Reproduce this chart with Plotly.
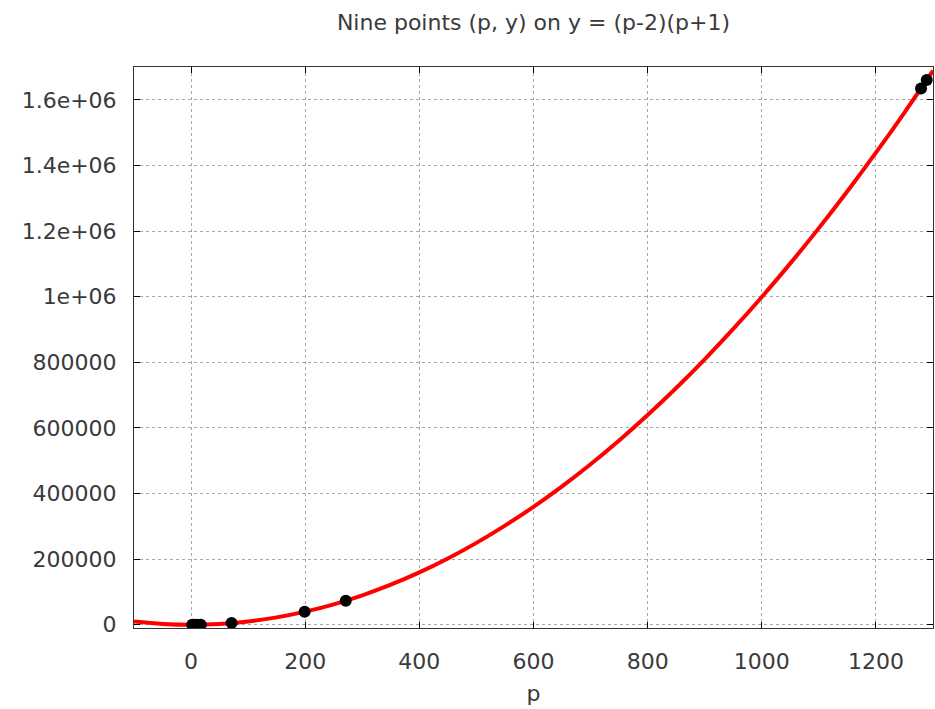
import plotly.graph_objects as go

# curve samples (p, y) read along y=(p-2)(p+1)
curve_p = [-100, -50, 0, 50, 100, 150, 200, 250, 300, 350, 400, 450, 500, 550, 600,
           650, 700, 750, 800, 850, 900, 950, 1000, 1050, 1100, 1150, 1200, 1250, 1300]
curve_y = [10098, 2548, -2, 2448, 9898, 22348, 39798, 62248, 89698, 122148, 159598,
           202048, 249498, 301948, 359398, 421848, 489298, 561748, 639198, 721648,
           809098, 901548, 998998, 1101448, 1208898, 1321348, 1438798, 1561248, 1688698]

# nine points
pts_p = [2, 5, 11, 17, 71, 199, 271, 1279, 1289]
pts_y = [0, 18, 108, 270, 4968, 39400, 73168, 1634560, 1660230]

x_ticks = [0, 200, 400, 600, 800, 1000, 1200]
y_ticks = [0, 200000, 400000, 600000, 800000, 1000000, 1200000, 1400000, 1600000]
y_tick_labels = ["0", "200000", "400000", "600000", "800000", "1e+06", "1.2e+06", "1.4e+06", "1.6e+06"]

font = "DejaVu Sans"
txt = "#3a3a3a"

fig = go.Figure()
fig.add_trace(go.Scatter(x=curve_p, y=curve_y, mode="lines", line=dict(color="#ff0000", width=4, shape="spline"),
                         showlegend=False, hoverinfo="skip", cliponaxis=True))
fig.add_trace(go.Scatter(x=pts_p, y=pts_y, mode="markers", cliponaxis=True,
                         marker=dict(color="black", size=12, symbol="circle"), showlegend=False))

axis_common = dict(showline=True, linecolor="#333333", linewidth=1, mirror="ticks",
                   ticks="inside", ticklen=6, tickcolor="#000000", showgrid=True,
                   gridcolor="#a8a8a8", griddash="dot", gridwidth=1, zeroline=False,
                   automargin=False,
                   tickfont=dict(family=font, size=22, color=txt))

fig.update_layout(
    width=935, height=709,
    paper_bgcolor="white", plot_bgcolor="white",
    margin=dict(l=134, r=2, t=67, b=81),
    title=dict(text="Nine points (p, y) on y = (p-2)(p+1)", x=0.5, xanchor="center", xref="paper",
               yref="container", y=1 - 22 / 709, yanchor="middle",
               font=dict(family=font, size=22, color=txt)),
    xaxis=dict(range=[-100, 1300], tickvals=x_ticks, ticktext=[str(v) for v in x_ticks],
               ticklabelstandoff=14,
               title=dict(text="p", font=dict(family=font, size=22, color=txt), standoff=12),
               **axis_common),
    yaxis=dict(range=[-10000, 1700000], tickvals=y_ticks, ticktext=y_tick_labels,
               ticklabelstandoff=12, **axis_common),
)

fig.write_html("out.html", config={"displayModeBar": False},
               post_script="document.body.style.margin='0';document.body.style.overflow='hidden';")
